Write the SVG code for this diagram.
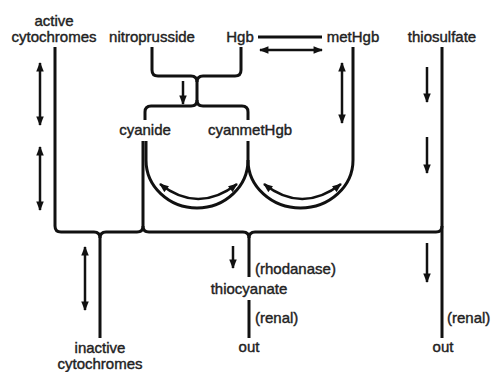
<svg xmlns="http://www.w3.org/2000/svg" width="491" height="372" viewBox="0 0 491 372">
<defs>
<marker id="ah" viewBox="0 0 10 8" refX="9" refY="4" markerWidth="11" markerHeight="7.5" markerUnits="userSpaceOnUse" orient="auto-start-reverse">
<path d="M0,0 L10,4 L0,8 z" fill="#111"/>
</marker>
<style>
text{font-family:"Liberation Sans",Arial,sans-serif;font-size:15px;fill:#222;stroke:#222;stroke-width:0.4;text-anchor:middle}
.l{text-anchor:start}
.ln{fill:none;stroke:#111;stroke-width:3}
.ar{fill:none;stroke:#111;stroke-width:2.5}
</style>
</defs>
<rect width="491" height="372" fill="#fff"/>
<g id="connectors">
<path class="ln" d="M55 47 V226 Q55 232 61 232 H94 Q100 232 100 238 V338"/>
<path class="ln" d="M106 232 Q100 232 100 238"/>
<path class="ln" d="M106 232 H137 Q143 232 143 226 V141"/>
<path class="ln" d="M143 226 Q143 232 149 232 H243 Q249 232 249 238 V277"/>
<path class="ln" d="M255 232 Q249 232 249 238"/>
<path class="ln" d="M255 232 H436 Q442 232 442 226"/>
<path class="ln" d="M442 47 V338"/>
<path class="ln" d="M249 300 V338"/>
<path class="ln" d="M152 47 V70 Q152 76 158 76 H191 Q197 76 197 82 V100 Q197 106 191 106 H151 Q145 106 145 112 V120"/>
<path class="ln" d="M241 47 V70 Q241 76 235 76 H203 Q197 76 197 82"/>
<path class="ln" d="M197 100 Q197 106 203 106 H242 Q248 106 248 112 V120"/>
<path class="ln" d="M146 141 V160 A51 48 0 0 0 248 160 V141"/>
<path class="ln" d="M248 160 A52.5 48 0 0 0 353 160 V47"/>
<path class="ln" d="M258 37 H322"/>
<path class="ar" d="M260 50 H322" marker-start="url(#ah)" marker-end="url(#ah)"/>
<path class="ar" d="M40 63 V125" marker-start="url(#ah)" marker-end="url(#ah)"/>
<path class="ar" d="M40 147 V210" marker-start="url(#ah)" marker-end="url(#ah)"/>
<path class="ar" d="M85 247 V310" marker-start="url(#ah)" marker-end="url(#ah)"/>
<path class="ar" d="M342 63 V123" marker-start="url(#ah)" marker-end="url(#ah)"/>
<path class="ar" d="M427 67 V102" marker-end="url(#ah)"/>
<path class="ar" d="M427 137 V173" marker-end="url(#ah)"/>
<path class="ar" d="M427 243 V282" marker-end="url(#ah)"/>
<path class="ar" d="M233 246 V268" marker-end="url(#ah)"/>
<path class="ar" d="M183 81 V104" marker-end="url(#ah)"/>
<path class="ar" d="M160 184 Q198 214 237 184" marker-start="url(#ah)" marker-end="url(#ah)"/>
<path class="ar" d="M264 184 Q302 214 341 184" marker-start="url(#ah)" marker-end="url(#ah)"/>
</g>
<g id="active-cytochromes"><text x="54" y="26">active</text><text x="54" y="42">cytochromes</text></g>
<g id="nitroprusside"><text x="152" y="42">nitroprusside</text></g>
<g id="Hgb"><text x="240" y="42">Hgb</text></g>
<g id="metHgb"><text x="353" y="42">metHgb</text></g>
<g id="thiosulfate"><text x="442" y="42">thiosulfate</text></g>
<g id="cyanide"><text x="145" y="135">cyanide</text></g>
<g id="cyanmetHgb"><text x="250" y="135">cyanmetHgb</text></g>
<g id="rhodanase"><text class="l" x="255" y="274">(rhodanase)</text></g>
<g id="thiocyanate"><text x="249" y="294">thiocyanate</text></g>
<g id="renal1"><text class="l" x="255" y="323">(renal)</text></g>
<g id="out1"><text x="249" y="352">out</text></g>
<g id="renal2"><text class="l" x="447" y="323">(renal)</text></g>
<g id="out2"><text x="443" y="352">out</text></g>
<g id="inactive-cytochromes"><text x="100" y="353">inactive</text><text x="100" y="369">cytochromes</text></g>
</svg>
